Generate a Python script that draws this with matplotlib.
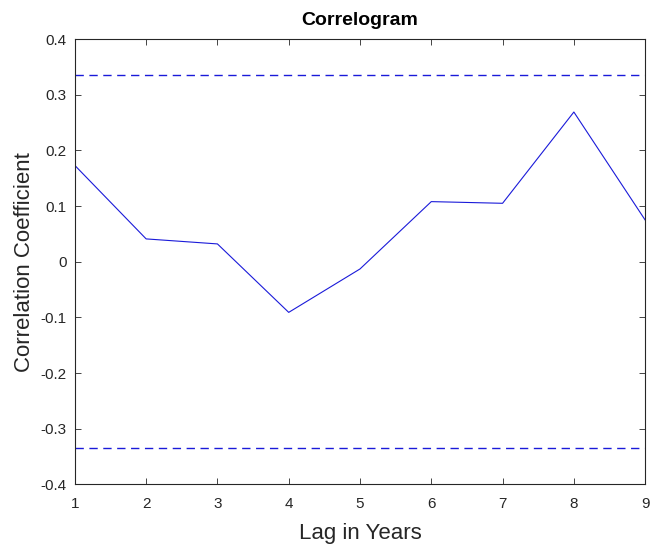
import numpy as np
import matplotlib
matplotlib.use('Agg')
import matplotlib.pyplot as plt

# correlogram values
lags = [1, 2, 3, 4, 5, 6, 7, 8, 9]
corr = [0.173, 0.041, 0.032, -0.091, -0.013, 0.108, 0.105, 0.269, 0.075]
bound = 0.335

plt.rcParams['font.family'] = ['Liberation Sans', 'DejaVu Sans']
ax_col = (0.15, 0.15, 0.15)
line_col = (0.1, 0.1, 0.85)

fig = plt.figure(figsize=(6.51, 5.51), dpi=100)
ax = fig.add_axes([0.115, 0.121, 0.876, 0.808])

ax.plot(lags, corr, color=line_col, lw=0.8)
ax.plot([lags[0], lags[-1]], [bound, bound], '--', color=line_col, lw=1.0, dashes=(6, 4))
ax.plot([lags[0], lags[-1]], [-bound, -bound], '--', color=line_col, lw=1.0, dashes=(6, 4))

ax.set_xlim(1, 9)
ax.set_ylim(-0.4, 0.4)
ax.set_xticks(lags)
ax.set_yticks(np.arange(-0.4, 0.41, 0.1))
ax.set_yticklabels(['-0.4', '-0.3', '-0.2', '-0.1', '0', '0.1', '0.2', '0.3', '0.4'])
ax.tick_params(direction='in', top=True, right=True, labelsize=11, colors=ax_col, length=4, width=0.6)
ax.tick_params(axis='x', pad=9)
ax.tick_params(axis='y', pad=6)
for s in ax.spines.values():
    s.set_color(ax_col)
    s.set_linewidth(0.8)

ax.set_title('Correlogram', fontsize=14, fontweight='bold', pad=10)
ax.set_xlabel('Lag in Years', fontsize=16, color=ax_col, labelpad=9)
ax.set_ylabel('Correlation Coefficient', fontsize=16, color=ax_col, labelpad=4)

fig.savefig('out.png', dpi=100)
